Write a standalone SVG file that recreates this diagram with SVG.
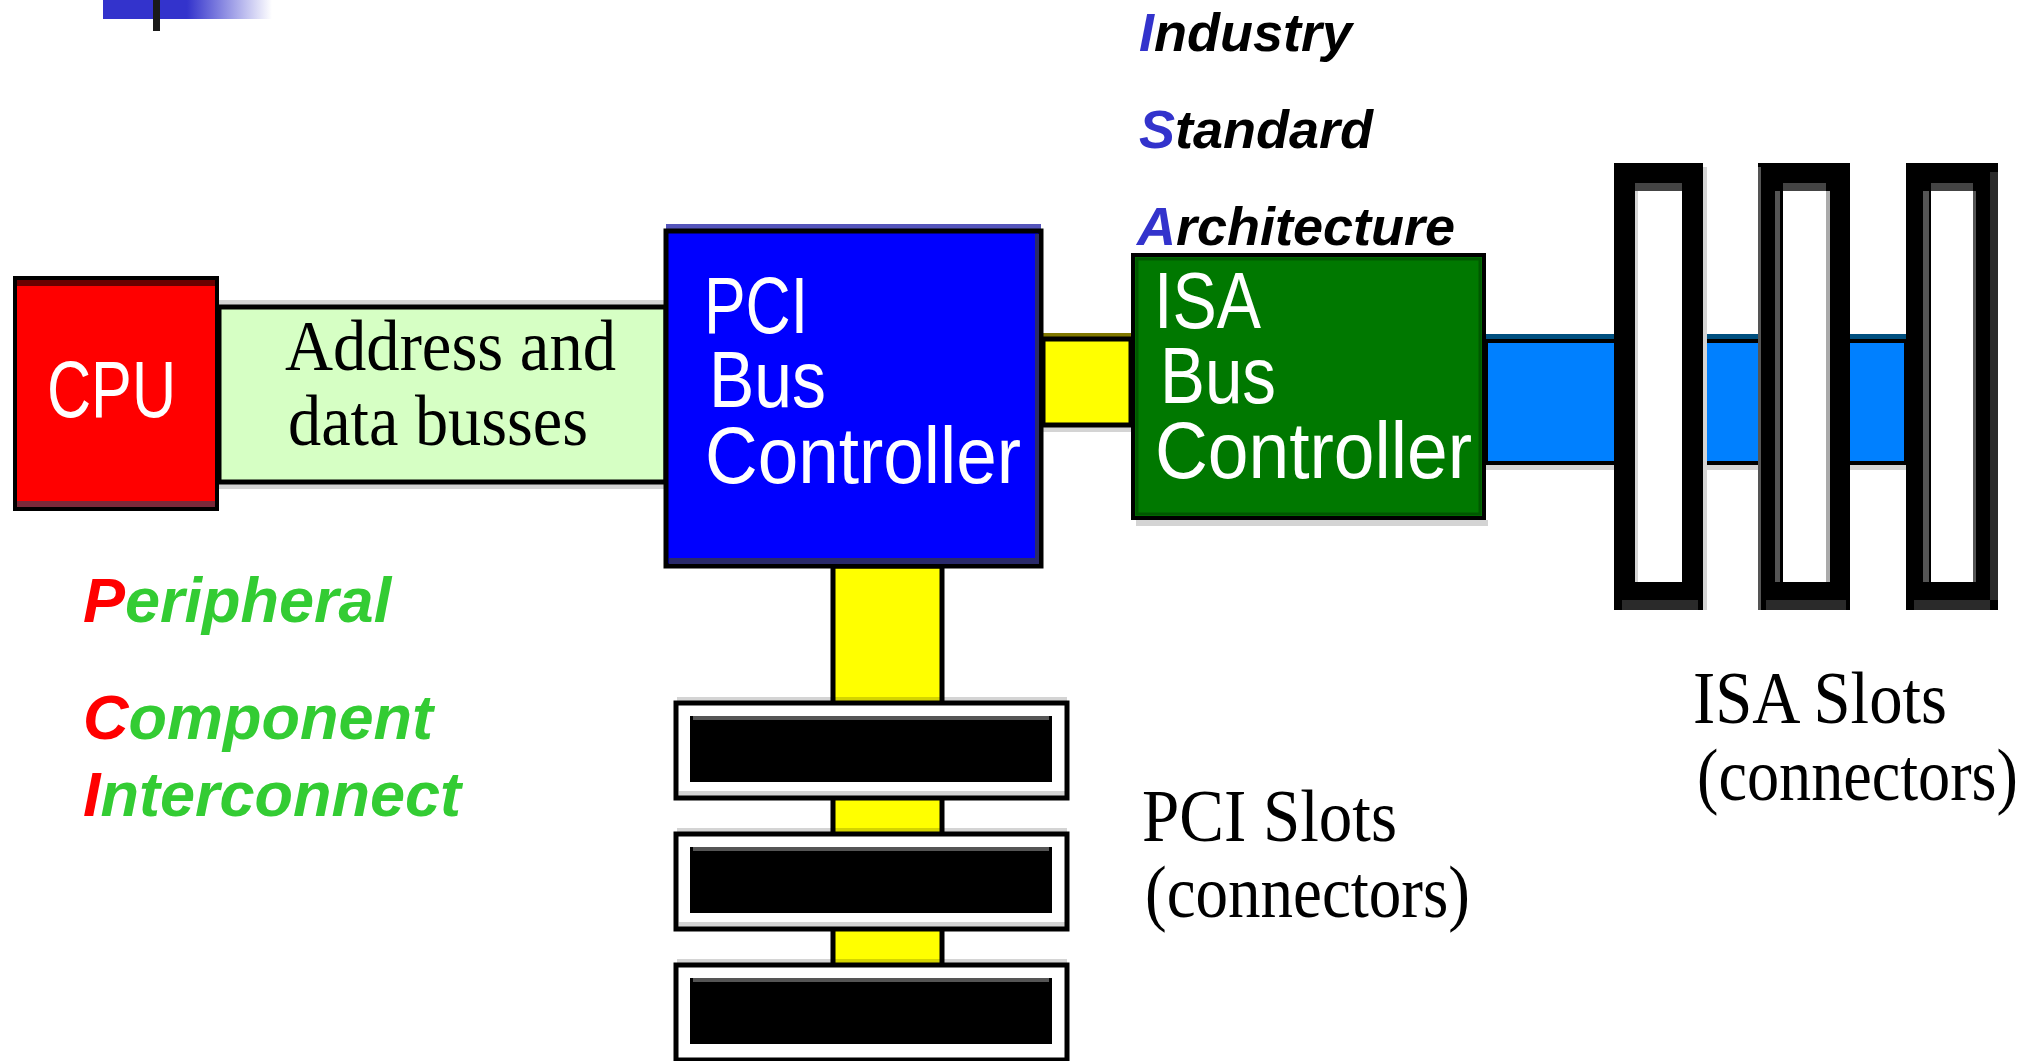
<svg xmlns="http://www.w3.org/2000/svg" width="2033" height="1061" viewBox="0 0 2033 1061">
<defs>
<linearGradient id="fade" x1="0" y1="0" x2="1" y2="0">
<stop offset="0" stop-color="#3333cc"/>
<stop offset="1" stop-color="#ffffff"/>
</linearGradient>
<style>
.sans{font-family:"Liberation Sans",Arial,sans-serif;}
.serif{font-family:"Liberation Serif","Times New Roman",serif;}
.box{fill:#fff;}
.wlabel{font-family:"Liberation Sans",Arial,sans-serif;fill:#fff;font-size:79px;}
.slabel{font-family:"Liberation Serif","Times New Roman",serif;fill:#000;font-size:74px;}
.acr{font-family:"Liberation Sans",Arial,sans-serif;font-weight:bold;font-style:italic;}
.shadow{fill:#000;opacity:0.17;}
.isaslot-outer{fill:#000;}
.isaslot-inner{fill:#fff;}
.pcislot-outer{fill:#fff;stroke:#000;stroke-width:5;}
.pcislot-inner{fill:#000;}
</style>
</defs>
<rect width="2033" height="1061" fill="#fff"/>

<g id="title-decoration">
<rect x="103" y="0" width="84" height="19" fill="#3333cc"/>
<rect x="187" y="0" width="85" height="19" fill="url(#fade)"/>
<rect x="153" y="0" width="7" height="31" fill="#1a1a1a"/>
</g>

<g id="connectors">
<g id="address-bus">
<rect class="shadow" x="219" y="300" width="447" height="5"/>
<rect class="shadow" x="219" y="484" width="447" height="5"/>
<rect x="219" y="307" width="447" height="175" fill="#d6ffc4" stroke="#000" stroke-width="5"/>
<text class="serif" x="285" y="370" font-size="72" textLength="331" lengthAdjust="spacingAndGlyphs">Address and</text>
<text class="serif" x="288" y="445" font-size="72" textLength="300" lengthAdjust="spacingAndGlyphs">data busses</text>
</g>
<g id="pci-isa-link">
<rect x="1043" y="333" width="88" height="4" fill="#807800"/>
<rect class="shadow" x="1043" y="427" width="88" height="5"/>
<rect x="1043" y="339" width="88" height="86" fill="#ffff00" stroke="#000" stroke-width="5"/>
</g>
<g id="isa-bus">
<rect x="1486" y="334" width="420" height="5" fill="#005080"/>
<rect class="shadow" x="1486" y="465" width="420" height="5"/>
<rect x="1486" y="341" width="420" height="122" fill="#0080ff" stroke="#000" stroke-width="4"/>
</g>
<g id="pci-bus">
<rect x="833" y="566" width="109" height="500" fill="#ffff00" stroke="#000" stroke-width="5"/>
</g>
</g>

<g id="cpu">
<rect x="15" y="278" width="202" height="231" fill="#ff0000" stroke="#000" stroke-width="4"/>
<rect x="17" y="280" width="198" height="6" fill="#6b0000"/>
<rect x="17" y="501" width="198" height="6" fill="#7a2a3a"/>
<text class="wlabel" x="47" y="417" font-size="78" textLength="129" lengthAdjust="spacingAndGlyphs">CPU</text>
</g>

<g id="pci-controller">
<rect x="666" y="224" width="375" height="5" fill="#5555bb"/>
<rect x="666" y="231" width="375" height="335" fill="#0000ff" stroke="#000" stroke-width="5"/>
<rect x="1035" y="234" width="4" height="330" fill="#2a2a6a"/>
<rect x="669" y="558" width="370" height="6" fill="#2a2a6a"/>
<text class="wlabel" x="704" y="333" textLength="104" lengthAdjust="spacingAndGlyphs">PCI</text>
<text class="wlabel" x="709" y="407" textLength="117" lengthAdjust="spacingAndGlyphs">Bus</text>
<text class="wlabel" x="705" y="483" textLength="316" lengthAdjust="spacingAndGlyphs">Controller</text>
</g>

<g id="isa-controller">
<rect class="shadow" x="1136" y="520" width="352" height="6"/>
<rect x="1133" y="255" width="351" height="263" fill="#007800" stroke="#000" stroke-width="4"/>
<rect x="1137" y="259" width="343" height="255" fill="none" stroke="#005800" stroke-width="3"/>
<text class="wlabel" x="1154" y="328" textLength="107" lengthAdjust="spacingAndGlyphs">ISA</text>
<text class="wlabel" x="1160" y="403" textLength="116" lengthAdjust="spacingAndGlyphs">Bus</text>
<text class="wlabel" x="1155" y="478" textLength="317" lengthAdjust="spacingAndGlyphs">Controller</text>
</g>

<g id="isa-slot-1">
<rect class="isaslot-outer" x="1614" y="163" width="89" height="447"/>
<rect x="1703" y="167" width="4" height="443" fill="#d4d4d4"/>
<rect x="1635" y="183" width="47" height="8" fill="#444"/>
<rect class="isaslot-inner" x="1635" y="191" width="47" height="391"/>
<rect x="1635" y="191" width="3" height="391" fill="#d4d4d4"/>
<rect x="1622" y="600" width="76" height="10" fill="#2a2a2a"/>
</g>
<g id="isa-slot-2">
<rect class="isaslot-outer" x="1758" y="163" width="92" height="447"/>
<rect x="1758" y="167" width="3" height="443" fill="#555"/>
<rect x="1775" y="191" width="5" height="391" fill="#555"/>
<rect x="1783" y="183" width="43" height="8" fill="#444"/>
<rect class="isaslot-inner" x="1783" y="191" width="43" height="391"/>
<rect x="1826" y="191" width="4" height="391" fill="#aaa"/>
<rect x="1766" y="600" width="80" height="10" fill="#2a2a2a"/>
</g>
<g id="isa-slot-3">
<rect class="isaslot-outer" x="1906" y="163" width="92" height="447"/>
<rect x="1923" y="191" width="6" height="391" fill="#555"/>
<rect x="1931" y="183" width="42" height="8" fill="#444"/>
<rect class="isaslot-inner" x="1931" y="191" width="42" height="391"/>
<rect x="1973" y="191" width="3" height="391" fill="#555"/>
<rect x="1990" y="172" width="8" height="428" fill="#2a2a2a"/>
<rect x="1914" y="600" width="76" height="10" fill="#2a2a2a"/>
</g>

<g id="pci-slot-1">
<rect class="shadow" x="677" y="697" width="390" height="4"/>
<rect class="pcislot-outer" x="676" y="703" width="391" height="95"/>
<rect class="shadow" x="679" y="791" width="386" height="5"/>
<rect class="pcislot-inner" x="690" y="716" width="362" height="66"/>
<rect x="693" y="716" width="356" height="4" fill="#555"/>
</g>
<g id="pci-slot-2">
<rect class="shadow" x="677" y="828" width="390" height="4"/>
<rect class="pcislot-outer" x="676" y="834" width="391" height="95"/>
<rect class="shadow" x="679" y="922" width="386" height="5"/>
<rect class="pcislot-inner" x="690" y="847" width="362" height="66"/>
<rect x="693" y="847" width="356" height="4" fill="#555"/>
</g>
<g id="pci-slot-3">
<rect class="shadow" x="677" y="959" width="390" height="4"/>
<rect class="pcislot-outer" x="676" y="965" width="391" height="95"/>
<rect class="pcislot-inner" x="690" y="978" width="362" height="66"/>
<rect x="693" y="978" width="356" height="4" fill="#555"/>
</g>

<g id="isa-acronym" class="acr" font-size="54" fill="#000">
<text x="1139" y="51"><tspan fill="#3333cc">I</tspan>ndustry</text>
<text x="1139" y="148"><tspan fill="#3333cc">S</tspan>tandard</text>
<text x="1137" y="245"><tspan fill="#3333cc">A</tspan>rchitecture</text>
</g>

<g id="pci-acronym" class="acr" font-size="63" fill="#33cc33">
<text x="83" y="622"><tspan fill="#ff0000">P</tspan>eripheral</text>
<text x="83" y="739"><tspan fill="#ff0000">C</tspan>omponent</text>
<text x="83" y="816"><tspan fill="#ff0000">I</tspan>nterconnect</text>
</g>

<g id="pci-slots-label">
<text class="slabel" x="1142" y="841" textLength="255" lengthAdjust="spacingAndGlyphs">PCI Slots</text>
<text class="slabel" x="1145" y="917" textLength="325" lengthAdjust="spacingAndGlyphs">(connectors)</text>
</g>
<g id="isa-slots-label">
<text class="slabel" x="1693" y="723" textLength="254" lengthAdjust="spacingAndGlyphs">ISA Slots</text>
<text class="slabel" x="1697" y="800" textLength="321" lengthAdjust="spacingAndGlyphs">(connectors)</text>
</g>
</svg>
